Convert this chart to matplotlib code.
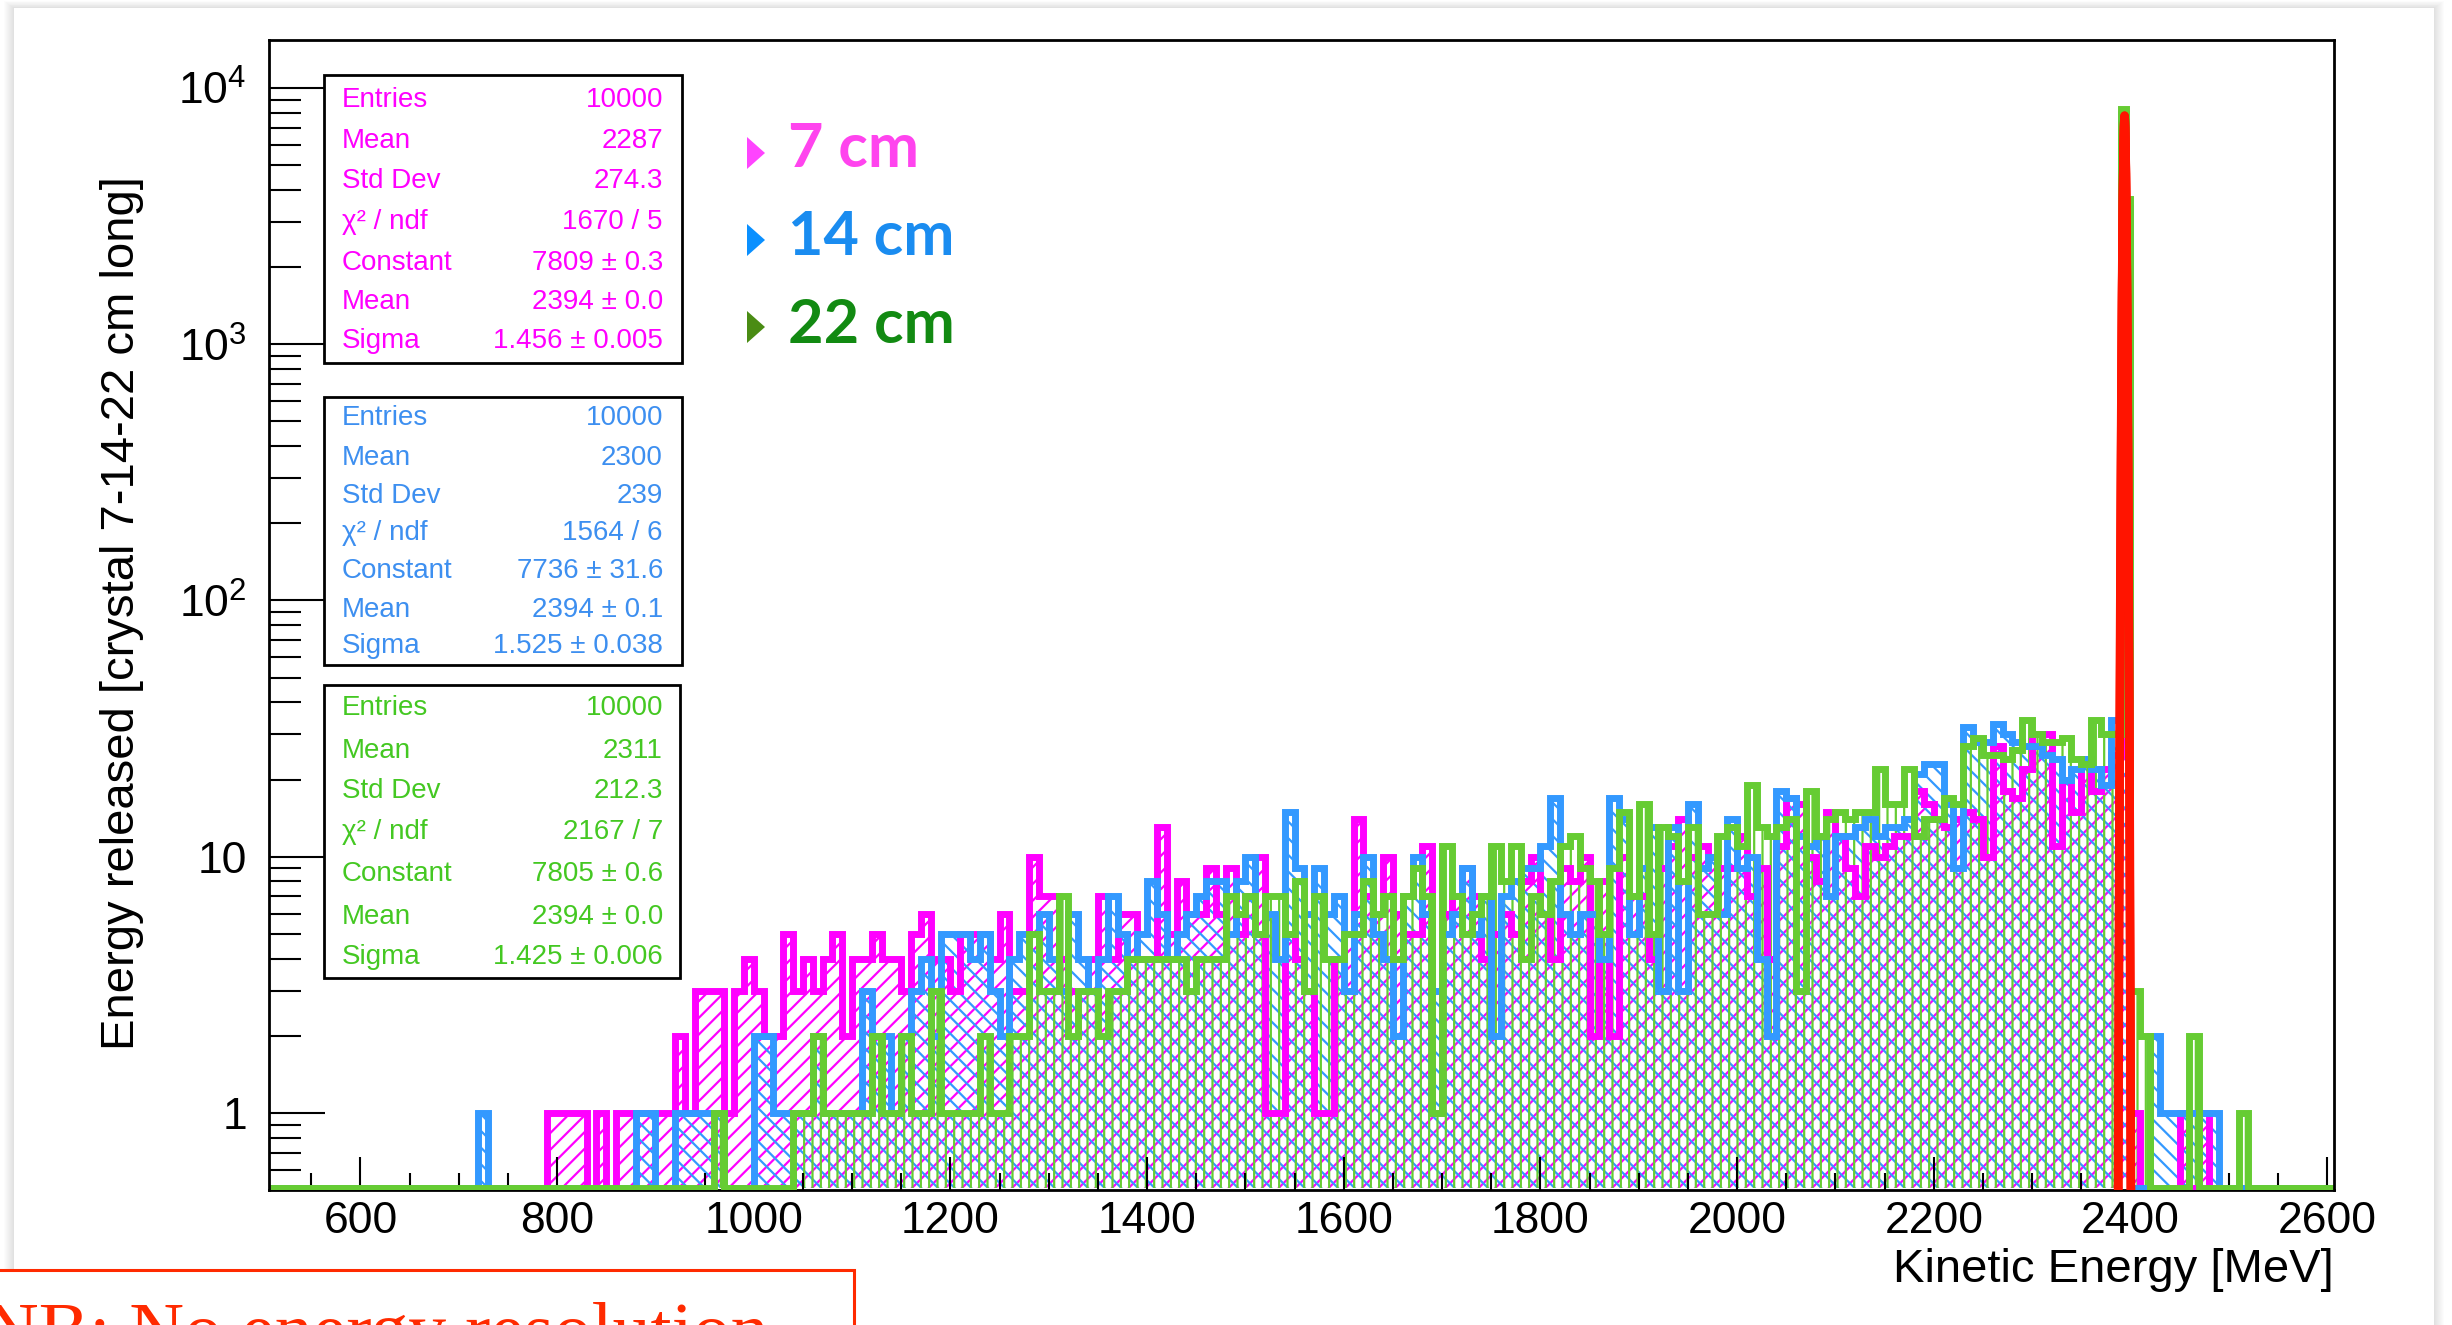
import numpy as np
import matplotlib
matplotlib.use('Agg')
import matplotlib.pyplot as plt
from matplotlib.patches import Rectangle, Polygon
from matplotlib.ticker import MultipleLocator, LogLocator, NullFormatter, FixedLocator, FixedFormatter

W, H = 2452, 1325

# kinetic energy spectra, 10 MeV bins from 700 MeV up to the peak (2390 MeV)
cont_7cm = [
    0, 0, 0, 0, 0, 0, 0, 0, 0, 1,          # 700
    1, 1, 1, 0, 1, 0, 1, 1, 1, 1,          # 800
    1, 1, 2, 1, 3, 3, 3, 1, 3, 4,          # 900
    3, 2, 2, 5, 3, 4, 3, 4, 5, 2,          # 1000
    4, 4, 5, 4, 4, 3, 5, 6, 4, 4,          # 1100
    3, 5, 5, 5, 4, 6, 3, 3, 10, 7,         # 1200
    7, 4, 3, 3, 4, 7, 4, 6, 6, 4,          # 1300
    4, 13, 5, 8, 6, 6, 9, 6, 9, 5,         # 1400
    7, 10, 1, 1, 5, 4, 3, 1, 1, 4,         # 1500
    5, 14, 7, 6, 10, 6, 5, 5, 11, 1,       # 1600
    6, 7, 9, 7, 4, 5, 6, 5, 8, 10,         # 1700
    6, 4, 9, 8, 10, 2, 8, 2, 10, 7,        # 1800
    7, 4, 9, 11, 14, 10, 11, 10, 9, 9,     # 1900
    12, 7, 9, 4, 11, 17, 16, 10, 8, 15,    # 2000
    12, 9, 7, 11, 10, 11, 12, 12, 18, 16,  # 2100
    14, 13, 14, 15, 14, 10, 27, 18, 17, 22,  # 2200
    30, 30, 11, 20, 15, 24, 18, 22, 25,    # 2300
]
cont_14cm = [
    0, 0, 1, 0, 0, 0, 0, 0, 0, 0,
    0, 0, 0, 0, 0, 0, 0, 0, 1, 1,
    0, 0, 1, 1, 1, 1, 1, 0, 0, 0,
    2, 2, 1, 1, 1, 1, 2, 1, 1, 1,
    1, 3, 2, 2, 1, 2, 3, 4, 2, 5,
    5, 5, 4, 5, 3, 2, 4, 5, 5, 6,
    4, 3, 6, 4, 3, 4, 7, 5, 4, 5,
    8, 6, 4, 5, 6, 7, 8, 8, 5, 8,
    10, 5, 6, 4, 15, 9, 6, 9, 6, 7,
    3, 6, 10, 5, 4, 2, 7, 10, 6, 3,
    5, 6, 9, 5, 7, 2, 7, 8, 9, 9,
    11, 17, 6, 5, 6, 6, 4, 17, 14, 5,
    9, 13, 3, 13, 3, 16, 9, 10, 6, 14,
    9, 10, 4, 2, 18, 17, 12, 11, 12, 7,
    12, 12, 13, 14, 12, 13, 13, 14, 21, 23,
    23, 16, 9, 32, 28, 28, 33, 30, 28, 27,
    27, 25, 24, 20, 22, 24, 22, 19, 34,
]
cont_22cm = [
    0, 0, 0, 0, 0, 0, 0, 0, 0, 0,
    0, 0, 0, 0, 0, 0, 0, 0, 0, 0,
    0, 0, 0, 0, 0, 0, 1, 0, 0, 0,
    0, 0, 0, 0, 1, 1, 2, 1, 1, 1,
    1, 1, 2, 1, 1, 2, 1, 1, 3, 1,
    1, 1, 1, 2, 1, 1, 2, 2, 5, 3,
    3, 7, 2, 3, 3, 2, 3, 3, 4, 4,
    4, 4, 4, 4, 3, 4, 4, 4, 7, 6,
    7, 5, 7, 7, 5, 8, 3, 7, 4, 4,
    5, 5, 8, 6, 7, 4, 7, 9, 7, 1,
    11, 7, 5, 6, 7, 11, 8, 11, 4, 7,
    6, 8, 11, 12, 9, 8, 5, 9, 15, 7,
    16, 5, 13, 12, 8, 13, 6, 6, 12, 13,
    11, 19, 13, 12, 13, 14, 3, 18, 12, 14,
    15, 14, 15, 15, 22, 16, 16, 22, 12, 14,
    14, 17, 16, 27, 29, 25, 25, 24, 26, 34,
    30, 28, 28, 29, 24, 23, 34, 30, 30,
]
# full-energy peak, two 5 MeV bins (2390-2395, 2395-2400)
peak_7cm = [7900, 3400]
peak_14cm = [7800, 3300]
peak_22cm = [8300, 3700]
# tail above the peak, 10 MeV bins from 2400 to 2530
tail_7cm = [1, 0, 0, 0, 0, 1, 0, 1, 0, 0, 0, 0, 0]
tail_14cm = [0, 0, 2, 1, 1, 1, 1, 1, 1, 0, 0, 0, 0]
tail_22cm = [3, 2, 0, 0, 0, 0, 2, 0, 0, 0, 0, 1, 0]

# gaussian fit results
fit_const = [7809, 7736, 7805]
fit_const_err = [0.3, 31.6, 0.6]
fit_mean = [2394, 2394, 2394]
fit_mean_err = [0.0, 0.1, 0.0]
fit_sigma = [1.456, 1.525, 1.425]
fit_sigma_err = [0.005, 0.038, 0.006]
chi2 = [1670, 1564, 2167]
ndf = [5, 6, 7]
entries = [10000, 10000, 10000]
hist_mean = ['2287', '2300', '2311']
hist_std = ['274.3', '239', '212.3']

lengths = ['7 cm', '14 cm', '22 cm']

edges = np.r_[np.arange(700, 2391, 10), 2395, np.arange(2400, 2531, 10)]
FLOOR = 0.51
XMIN, XMAX = 507, 2607

plt.rcParams['font.family'] = ['Liberation Sans', 'DejaVu Sans']
plt.rcParams['mathtext.fontset'] = 'custom'
plt.rcParams['mathtext.rm'] = 'Liberation Sans'
plt.rcParams['hatch.linewidth'] = 1.6


def frac(x, y):
    return x / W, 1 - y / H


def rect(x0, y0, x1, y1, **kw):
    return Rectangle(frac(x0, y1), (x1 - x0) / W, (y1 - y0) / H,
                     transform=fig.transFigure, **kw)


fig = plt.figure(figsize=(W / 100, H / 100), dpi=100)
fig.patch.set_facecolor('white')

# slide panel with a soft drop shadow
for k in range(10, 0, -1):
    fig.patches.append(rect(14 - k, 8 - 0.7 * k, 2434 + k, 1500,
                            facecolor='black', alpha=0.013, edgecolor='none', zorder=-10))
fig.patches.append(rect(14, 8, 2434, 1500, facecolor='white', edgecolor='none', zorder=-9))

ax = fig.add_axes([269 / W, 1 - 1190 / H, (2334 - 269) / W, (1190 - 40) / H])
ax.set_facecolor('white')

series = [
    (cont_7cm, peak_7cm, tail_7cm, '#ff00ff', '//'),
    (cont_14cm, peak_14cm, tail_14cm, '#3399ff', '\\\\'),
    (cont_22cm, peak_22cm, tail_22cm, '#66cc33', '||'),
]
for cont, peak, tail, color, hatch in series:
    vals = np.array(cont + peak + tail, dtype=float)
    shown = np.where(vals > 0, vals, FLOOR)
    ax.stairs(shown, edges, baseline=FLOOR, fill=True, facecolor='none',
              edgecolor=color, hatch=hatch, linewidth=0, zorder=1)
    ax.stairs(np.r_[FLOOR, shown, FLOOR], np.r_[400, edges, 2700], baseline=None,
              color=color, linewidth=5.0, zorder=2)

# fitted gaussians
xf = np.linspace(2375, 2415, 4001)
for c, m, s in zip(fit_const, fit_mean, fit_sigma):
    ax.plot(xf, c * np.exp(-0.5 * ((xf - m) / s) ** 2), color='#ff1400', lw=6.0, zorder=3)

ax.set_yscale('log')
ax.set_xlim(XMIN, XMAX)
ax.set_ylim(0.5, 15400)

ax.xaxis.set_major_locator(MultipleLocator(200))
ax.xaxis.set_minor_locator(MultipleLocator(50))
ax.yaxis.set_major_locator(FixedLocator([1, 10, 100, 1000, 10000]))
ax.yaxis.set_major_formatter(FixedFormatter(['1', '10', r'$\mathregular{10^{2}}$',
                                             r'$\mathregular{10^{3}}$', r'$\mathregular{10^{4}}$']))
ax.yaxis.set_minor_locator(LogLocator(base=10, subs=np.arange(2, 10)))
ax.yaxis.set_minor_formatter(NullFormatter())

ax.tick_params(axis='x', which='major', direction='in', length=24, width=1.5,
               labelsize=32, pad=8, top=False)
ax.tick_params(axis='x', which='minor', direction='in', length=12, width=1.5, top=False)
ax.tick_params(axis='y', which='major', direction='in', length=40, width=1.5,
               labelsize=32, pad=16, right=False)
ax.tick_params(axis='y', which='minor', direction='in', length=23, width=1.5, right=False)
for side, sp in ax.spines.items():
    sp.set_linewidth(2.0)
ax.spines['bottom'].set_zorder(1.5)

fig.text(*frac(2334, 1270), 'Kinetic Energy [MeV]', ha='right', va='center', fontsize=34)
fig.text(*frac(122, 613), 'Energy released [crystal 7-14-22 cm long]', rotation=90,
         ha='center', va='center', fontsize=34)

# statistics boxes
box_frames = [(324, 75, 682, 363), (324, 397, 682, 665), (324, 685, 680, 978)]
box_rows = [[100, 141, 181, 222, 263, 302, 341],
            [418, 458, 496, 533, 571, 610, 646],
            [708, 751, 791, 832, 874, 917, 957]]
box_colors = ['#ff00ff', '#3d8ff0', '#44c822']
row_names = ['Entries', 'Mean', 'Std Dev', 'χ² / ndf', 'Constant', 'Mean', 'Sigma']
for i in range(3):
    x0, y0, x1, y1 = box_frames[i]
    fig.patches.append(rect(x0, y0, x1, y1, facecolor='white', edgecolor='black',
                            linewidth=2.0, zorder=5))
    row_vals = [str(entries[i]), hist_mean[i], hist_std[i], f'{chi2[i]} / {ndf[i]}',
                f'{fit_const[i]} ± {fit_const_err[i]}', f'{fit_mean[i]} ± {fit_mean_err[i]:.1f}',
                f'{fit_sigma[i]:.3f} ± {fit_sigma_err[i]:.3f}']
    for name, val, yr in zip(row_names, row_vals, box_rows[i]):
        fig.text(*frac(342, yr), name, ha='left', va='center', fontsize=20,
                 color=box_colors[i], zorder=6)
        fig.text(*frac(663, yr), val, ha='right', va='center', fontsize=20,
                 color=box_colors[i], zorder=6)

# legend with triangle bullets
leg_text_colors = ['#ff44ee', '#1a8cf0', '#128a12']
leg_tri_colors = ['#ff44ff', '#0a90ff', '#4a8c14']
leg_centers = [153, 240, 327]
leg_baselines = [167, 255, 343]
for lab, tc, mc, yc, yb in zip(lengths, leg_text_colors, leg_tri_colors, leg_centers, leg_baselines):
    tri = Polygon([frac(747, yc - 16), frac(747, yc + 16), frac(765, yc)], closed=True,
                  transform=fig.transFigure, facecolor=mc, edgecolor='none', zorder=6)
    fig.patches.append(tri)
    fig.text(*frac(788, yb), lab, ha='left', va='baseline', fontsize=44,
             family='Lato', fontweight='bold', color=tc, zorder=6)

# note box at the bottom of the slide
fig.patches.append(rect(-10, 1270, 854, 1500, facecolor='white', edgecolor='#ff2a00',
                        linewidth=2.2, zorder=10))
fig.text(*frac(-16, 1355), 'NB: No energy resolution', ha='left', va='baseline',
         fontsize=54.6, family='Liberation Serif', color='#ff2a00', zorder=11)

fig.savefig('out.png', dpi=100, facecolor='white')
